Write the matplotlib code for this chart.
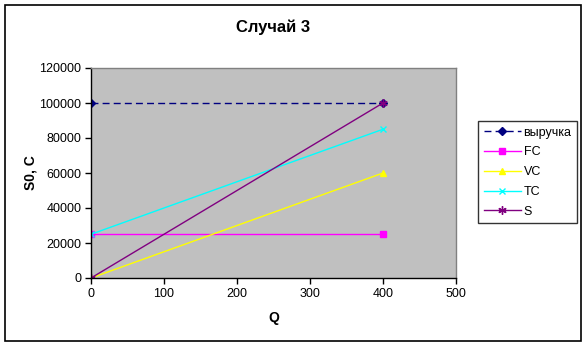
import matplotlib
matplotlib.use("Agg")
import matplotlib.pyplot as plt
from matplotlib.patches import Rectangle

plt.rcParams['font.family'] = ['Liberation Sans', 'DejaVu Sans']

q = [0, 400]
revenue = [100000, 100000]
fc = [25000, 25000]
vc = [0, 60000]
tc = [25000, 85000]
s = [0, 100000]
labels = ["выручка", "FC", "VC", "TC", "S"]

fig = plt.figure(figsize=(5.88, 3.47), dpi=100)
ax = fig.add_axes([91/588, 1-278/347, (456-91)/588, (278-68)/347])
ax.set_facecolor('#C0C0C0')

ax.plot(q, revenue, color='#000080', linestyle=(0, (5, 3)), lw=1, marker='D', ms=4, label=labels[0])
ax.plot(q, fc, color='#FF00FF', lw=1, marker='s', ms=5, label=labels[1])
ax.plot(q, vc, color='#FFFF00', lw=1, marker='^', ms=5, label=labels[2])
ax.plot(q, tc, color='#00FFFF', lw=1, marker='x', ms=5, mew=1, label=labels[3])
ax.plot(q, s, color='#800080', lw=1, marker=(6, 2, 0), ms=6, mew=1, label=labels[4])

ax.set_xlim(0, 500)
ax.set_ylim(0, 120000)
ax.set_xticks(range(0, 501, 100))
ax.set_yticks(range(0, 120001, 20000))
ax.tick_params(axis='both', direction='out', length=4, width=1, labelsize=9, colors='black', pad=3)
for side in ['top', 'right']:
    ax.spines[side].set_color('#808080')
for side in ['left', 'bottom']:
    ax.spines[side].set_color('black')
for sp in ax.spines.values():
    sp.set_linewidth(1)

fig.text((91+456)/2/588, 1-27/347, "Случай 3", ha='center', va='center', fontsize=12, fontweight='bold')
ax.set_xlabel("Q", fontsize=10, fontweight='bold', labelpad=8)
ax.set_ylabel("S0, C", fontsize=10, fontweight='bold', labelpad=1)

leg = fig.legend(loc='upper left', bbox_to_anchor=(478/588, 1-121/347), fontsize=9,
                 frameon=True, fancybox=False, edgecolor='black', handlelength=3.0,
                 borderpad=0.45, labelspacing=0.62, handletextpad=0.2, borderaxespad=0)
leg.get_frame().set_linewidth(1)

fig.patches.append(Rectangle((5/588, 1-341/347), 576/588, 336/347, transform=fig.transFigure,
                             fill=False, edgecolor='black', lw=1.2))

fig.savefig("out.png", dpi=100)
